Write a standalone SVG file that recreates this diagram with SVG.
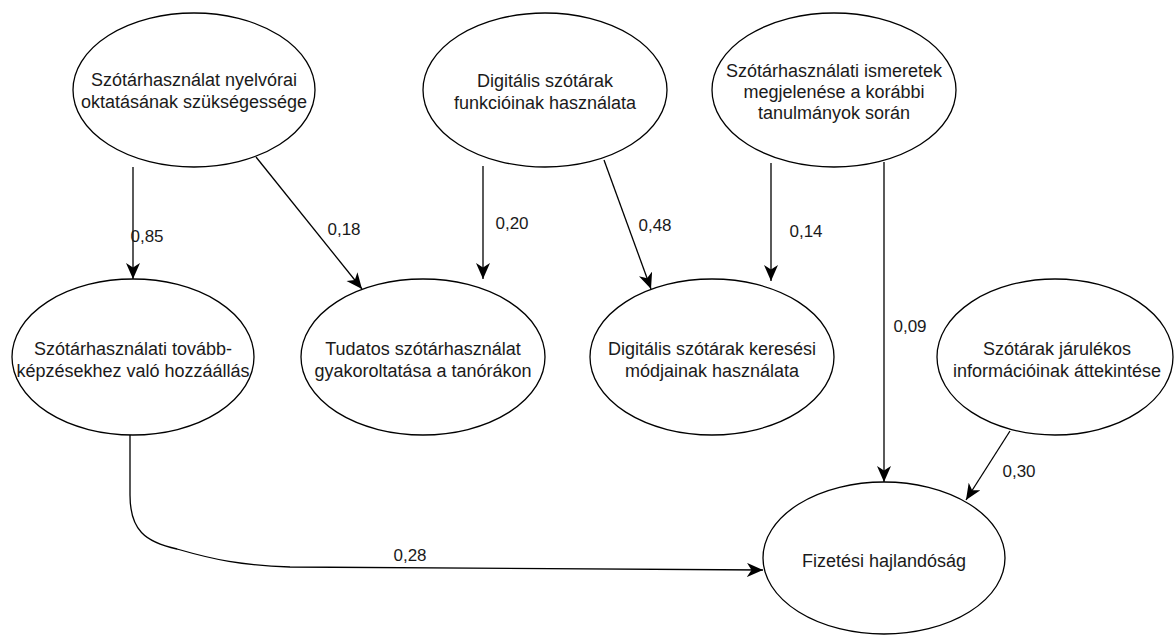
<svg xmlns="http://www.w3.org/2000/svg" width="1174" height="635" viewBox="0 0 1174 635">
<style>
.n{fill:#fff;stroke:#000;stroke-width:1.3}
.t{font-family:"Liberation Sans",Arial,sans-serif;font-size:18px;fill:#1a1a1a;text-anchor:middle}
.l{font-family:"Liberation Sans",Arial,sans-serif;font-size:17px;fill:#1a1a1a;text-anchor:middle}
.e{fill:none;stroke:#000;stroke-width:1.3}
</style>
<defs>
<marker id="a" markerUnits="userSpaceOnUse" markerWidth="18" markerHeight="16" refX="16" refY="7" orient="auto">
<path d="M0,0 L16,7 L0,14 L4.5,7 Z" fill="#000"/>
</marker>
</defs>
<rect width="1174" height="635" fill="#fff"/>
<g id="edges">
<line class="e" x1="133" y1="167" x2="133" y2="279" marker-end="url(#a)"/>
<line class="e" x1="256" y1="157" x2="362" y2="289" marker-end="url(#a)"/>
<line class="e" x1="483" y1="166" x2="483" y2="279" marker-end="url(#a)"/>
<line class="e" x1="604" y1="160" x2="651" y2="289" marker-end="url(#a)"/>
<line class="e" x1="771" y1="163" x2="771" y2="281" marker-end="url(#a)"/>
<line class="e" x1="884" y1="162" x2="884" y2="482" marker-end="url(#a)"/>
<line class="e" x1="1010" y1="431" x2="966" y2="500" marker-end="url(#a)"/>
<path class="e" d="M130,435 L130,495 C130,530 145,542 177,549 C215,560 240,565 290,567 L763,570" marker-end="url(#a)"/>
<text class="l" x="147" y="242">0,85</text>
<text class="l" x="344" y="235">0,18</text>
<text class="l" x="512" y="229">0,20</text>
<text class="l" x="655" y="231">0,48</text>
<text class="l" x="806" y="237">0,14</text>
<text class="l" x="910" y="332">0,09</text>
<text class="l" x="1019" y="477">0,30</text>
<text class="l" x="410" y="561">0,28</text>
</g>
<g id="n1"><ellipse class="n" cx="194" cy="90" rx="121" ry="77"/>
<text class="t" x="194" y="86">Szótárhasználat nyelvórai</text><text class="t" x="194" y="108">oktatásának szükségessége</text></g>
<g id="n2"><ellipse class="n" cx="545" cy="90" rx="122" ry="77"/>
<text class="t" x="545" y="87">Digitális szótárak</text><text class="t" x="545" y="109">funkcióinak használata</text></g>
<g id="n3"><ellipse class="n" cx="834" cy="90" rx="122" ry="77"/>
<text class="t" x="834" y="77">Szótárhasználati ismeretek</text><text class="t" x="834" y="98">megjelenése a korábbi</text><text class="t" x="834" y="119">tanulmányok során</text></g>
<g id="n4"><ellipse class="n" cx="133" cy="357" rx="121" ry="78"/>
<text class="t" x="133" y="355">Szótárhasználati tovább-</text><text class="t" x="133" y="377">képzésekhez való hozzáállás</text></g>
<g id="n5"><ellipse class="n" cx="423" cy="357" rx="122" ry="78"/>
<text class="t" x="423" y="355">Tudatos szótárhasználat</text><text class="t" x="423" y="377">gyakoroltatása a tanórákon</text></g>
<g id="n6"><ellipse class="n" cx="712" cy="357" rx="122" ry="78"/>
<text class="t" x="712" y="355">Digitális szótárak keresési</text><text class="t" x="712" y="377">módjainak használata</text></g>
<g id="n7"><ellipse class="n" cx="1055" cy="357" rx="118" ry="78"/>
<text class="t" x="1057" y="355">Szótárak járulékos</text><text class="t" x="1057" y="377">információinak áttekintése</text></g>
<g id="n8"><ellipse class="n" cx="884" cy="558" rx="121" ry="76"/>
<text class="t" x="884" y="567">Fizetési hajlandóság</text></g>
</svg>
